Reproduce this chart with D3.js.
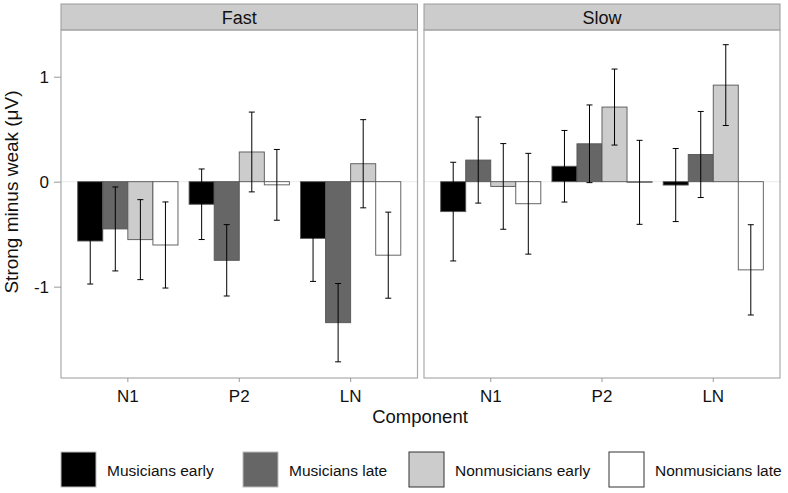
<!DOCTYPE html>
<html>
<head>
<meta charset="utf-8">
<script src="https://cdn.jsdelivr.net/npm/d3@7"></script>
<style>
  body { margin: 0; background: #fff; }
  svg { display: block; font-family: "Liberation Sans", Arial, sans-serif; }
</style>
</head>
<body>
<svg id="chart" width="788" height="493"></svg>
<script>
// Data
const speeds = ['Fast', 'Slow'];
const components = ['N1', 'P2', 'LN'];
const groups = ['Musicians early', 'Musicians late', 'Nonmusicians early', 'Nonmusicians late'];
const groupColors = ['#000000', '#666666', '#cccccc', '#ffffff'];
const yTicks = [-1, 0, 1];

// rows = groups, columns = components (N1, P2, LN)
const meanFast = [
    [-0.565, -0.215, -0.54],
    [-0.45, -0.749, -1.343],
    [-0.552, 0.283, 0.171],
    [-0.603, -0.03, -0.70]
];
const errFast = [
    [0.41, 0.336, 0.41],
    [0.40, 0.34, 0.373],
    [0.381, 0.38, 0.42],
    [0.41, 0.337, 0.41]
];
const meanSlow = [
    [-0.285, 0.147, -0.032],
    [0.206, 0.361, 0.259],
    [-0.045, 0.711, 0.92],
    [-0.21, -0.006, -0.84]
];
const errSlow = [
    [0.47, 0.341, 0.348],
    [0.41, 0.37, 0.41],
    [0.408, 0.362, 0.385],
    [0.48, 0.40, 0.43]
];

// Layout
const panelX = [[61, 417.5], [424, 780]];
const stripTop = 4, stripBottom = 30, plotBottom = 378;
const fontFamily = '"Liberation Sans", Arial, sans-serif';

const svg = d3.select('#chart');

const y = d3.scaleLinear()
    .domain([-1.87, 1.445])
    .range([plotBottom, stripBottom]);

const means = { Fast: meanFast, Slow: meanSlow };
const errs = { Fast: errFast, Slow: errSlow };

speeds.forEach((speed, p) => {
    const [x0, x1] = panelX[p];

    const x = d3.scaleBand()
        .domain(components)
        .range([x0, x1])
        .paddingInner(0.1)
        .paddingOuter(0.15);

    const xg = d3.scaleBand()
        .domain(groups)
        .range([0, x.bandwidth()]);

    const g = svg.append('g');

    // strip
    g.append('rect')
        .attr('x', x0).attr('y', stripTop)
        .attr('width', x1 - x0).attr('height', stripBottom - stripTop)
        .attr('fill', '#cccccc').attr('stroke', '#999').attr('stroke-width', 1);
    g.append('text')
        .attr('x', (x0 + x1) / 2).attr('y', (stripTop + stripBottom) / 2 + 1)
        .attr('text-anchor', 'middle').attr('dominant-baseline', 'central')
        .attr('font-size', 18).attr('fill', '#111')
        .text(speed);

    // zero reference line
    g.append('line')
        .attr('x1', x0).attr('x2', x1)
        .attr('y1', y(0)).attr('y2', y(0))
        .attr('stroke', '#ebebeb').attr('stroke-width', 1);

    // bars and error bars
    const rows = [];
    groups.forEach((grp, gi) => {
        components.forEach((comp, ci) => {
            rows.push({
                grp, gi, comp,
                mean: means[speed][gi][ci],
                err: errs[speed][gi][ci]
            });
        });
    });

    g.selectAll('rect.bar')
        .data(rows)
        .enter()
        .append('rect')
        .attr('class', 'bar')
        .attr('x', d => x(d.comp) + xg(d.grp))
        .attr('width', xg.bandwidth())
        .attr('y', d => y(Math.max(0, d.mean)))
        .attr('height', d => Math.abs(y(d.mean) - y(0)))
        .attr('fill', d => groupColors[d.gi])
        .attr('stroke', '#555')
        .attr('stroke-width', 0.9);

    const cap = 3;
    const eb = g.selectAll('g.err')
        .data(rows)
        .enter()
        .append('g')
        .attr('class', 'err')
        .attr('stroke', '#000')
        .attr('stroke-width', 1);
    const cx = d => x(d.comp) + xg(d.grp) + xg.bandwidth() / 2;
    eb.append('line')
        .attr('x1', cx).attr('x2', cx)
        .attr('y1', d => y(d.mean + d.err)).attr('y2', d => y(d.mean - d.err));
    eb.append('line')
        .attr('x1', d => cx(d) - cap).attr('x2', d => cx(d) + cap)
        .attr('y1', d => y(d.mean + d.err)).attr('y2', d => y(d.mean + d.err));
    eb.append('line')
        .attr('x1', d => cx(d) - cap).attr('x2', d => cx(d) + cap)
        .attr('y1', d => y(d.mean - d.err)).attr('y2', d => y(d.mean - d.err));

    // panel border
    g.append('rect')
        .attr('x', x0).attr('y', stripBottom)
        .attr('width', x1 - x0).attr('height', plotBottom - stripBottom)
        .attr('fill', 'none').attr('stroke', '#aaa').attr('stroke-width', 1.2);

    // x axis
    const xAxis = g.append('g')
        .attr('transform', `translate(0,${plotBottom})`)
        .call(d3.axisBottom(x).tickSize(4).tickPadding(8));
    xAxis.select('.domain').remove();
    xAxis.selectAll('line').attr('stroke', '#999');
    xAxis.selectAll('text').attr('font-size', 17).attr('fill', '#111')
        .attr('font-family', fontFamily);

    // y axis on the first panel only
    if (p === 0) {
        const yAxis = g.append('g')
            .attr('transform', `translate(${x0},0)`)
            .call(d3.axisLeft(y).tickValues(yTicks).tickFormat(d => String(d)).tickSize(7).tickPadding(5));
        yAxis.select('.domain').remove();
        yAxis.selectAll('line').attr('stroke', '#999');
        yAxis.selectAll('text').attr('font-size', 17).attr('fill', '#111')
            .attr('font-family', fontFamily);
    }
});

// axis titles
svg.append('text')
    .attr('x', 420).attr('y', 423)
    .attr('text-anchor', 'middle')
    .attr('font-size', 18.5).attr('fill', '#111')
    .text('Component');

svg.append('text')
    .attr('transform', 'translate(18,192) rotate(-90)')
    .attr('text-anchor', 'middle')
    .attr('font-size', 19).attr('fill', '#111')
    .text('Strong minus weak (μV)');

// legend
const legendX = [61, 243, 409, 609];
const legend = svg.append('g');
groups.forEach((grp, i) => {
    legend.append('rect')
        .attr('x', legendX[i]).attr('y', 452)
        .attr('width', 35).attr('height', 35)
        .attr('fill', groupColors[i])
        .attr('stroke', i < 2 ? '#bbb' : '#333')
        .attr('stroke-width', 1);
    legend.append('text')
        .attr('x', legendX[i] + 46).attr('y', 470)
        .attr('dominant-baseline', 'central')
        .attr('font-size', 15.5).attr('fill', '#111')
        .text(grp);
});
</script>
</body>
</html>
